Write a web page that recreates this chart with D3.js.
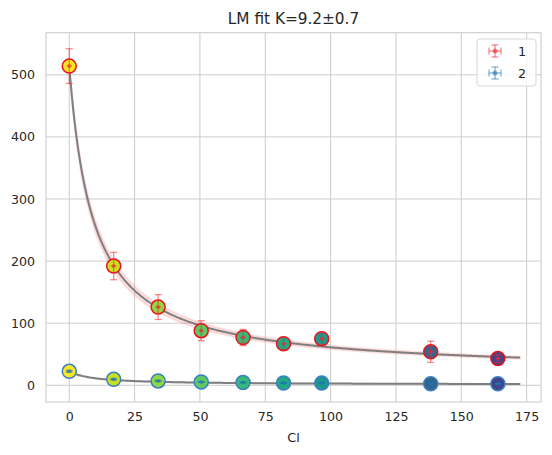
<!DOCTYPE html>
<html>
<head>
<meta charset="utf-8">
<script src="https://cdn.jsdelivr.net/npm/d3@7"></script>
<style>
    body { margin: 0; background: #fff; }
    text { font-family: "DejaVu Sans", sans-serif; }
</style>
</head>
<body>
<div id="chart"></div>
<script>
// data
const clValues = [0, 17, 34, 50.5, 66.5, 82, 96.6, 138.3, 164];
const series1 = [514, 192, 126, 88, 77, 67, 75, 54, 43];
const series1Err = [28, 22, 20, 16, 13, 10, 10, 17, 6];
const series2 = [22.5, 9.6, 7, 5.3, 4.5, 3.7, 3.5, 2.6, 2.5];
const series2Err = [1.5, 1, 0.8, 0.6, 0.5, 0.5, 0.4, 0.4, 0.4];
const xErr = [1, 1, 1, 1, 1, 1, 1, 1, 1];
const xTicks = [0, 25, 50, 75, 100, 125, 150, 175];
const yTicks = [0, 100, 200, 300, 400, 500];
const seriesNames = ["1", "2"];

// fit parameters: y = base + (top - base) / (1 + x / K)
const fitK = 9.2, fitKErr = 0.7;
const fitTop = [514, 22.5];
const fitBase = [19.5, 1.0];
const fitMaxX = 172.5;

const margin = {top: 32.7, right: 11, bottom: 53, left: 46};
const width = 552 - margin.left - margin.right;
const height = 455 - margin.top - margin.bottom;

const svg = d3.select("#chart").append("svg")
    .attr("width", 552)
    .attr("height", 455);

const g = svg.append("g")
    .attr("transform", `translate(${margin.left},${margin.top})`);

const x = d3.scaleLinear().domain([-8.9, 180.5]).range([0, width]);
const y = d3.scaleLinear().domain([-26.9, 567.8]).range([height, 0]);
const color = d3.scaleSequential(d3.interpolateViridis).domain([205, 0]);

// grid
g.append("g").selectAll("line").data(xTicks).enter().append("line")
    .attr("x1", d => x(d)).attr("x2", d => x(d))
    .attr("y1", 0).attr("y2", height)
    .attr("stroke", "#cccccc").attr("stroke-width", 1);
g.append("g").selectAll("line").data(yTicks).enter().append("line")
    .attr("y1", d => y(d)).attr("y2", d => y(d))
    .attr("x1", 0).attr("x2", width)
    .attr("stroke", "#cccccc").attr("stroke-width", 1);

// axes
const xAxis = d3.axisBottom(x).tickValues(xTicks).tickSize(0).tickPadding(10);
const yAxis = d3.axisLeft(y).tickValues(yTicks).tickSize(0).tickPadding(11);

const xg = g.append("g").attr("transform", `translate(0,${height})`).call(xAxis);
const yg = g.append("g").call(yAxis);
[xg, yg].forEach(a => {
    a.select(".domain").remove();
    a.selectAll("text").attr("fill", "#262626").style("font-size", "12.6px")
        .style("font-family", "DejaVu Sans");
});

// spines
g.append("rect")
    .attr("width", width).attr("height", height)
    .attr("fill", "none").attr("stroke", "#cccccc").attr("stroke-width", 1.1);

// fit curves with confidence bands
const fitXs = d3.range(0, 401).map(i => i / 400 * fitMaxX);
const model = (s, k, xv) => fitBase[s] + (fitTop[s] - fitBase[s]) / (1 + xv / k);
const bandColors = ["rgba(240,80,90,0.15)", "rgba(120,120,120,0.2)"];

[0, 1].forEach(s => {
    const area = d3.area()
        .x(d => x(d))
        .y0(d => y(model(s, fitK - fitKErr, d)))
        .y1(d => y(model(s, fitK + fitKErr, d)));
    g.append("path").datum(fitXs)
        .attr("d", area)
        .attr("fill", bandColors[s])
        .attr("stroke", bandColors[s]).attr("stroke-width", 2);
    const line = d3.line().x(d => x(d)).y(d => y(model(s, fitK, d)));
    g.append("path").datum(fitXs)
        .attr("d", line)
        .attr("fill", "none")
        .attr("stroke", "#7f7f7f").attr("stroke-width", 2);
});

// markers
const edgeColors = ["#e8141c", "#3a7fc4"];
const errColors = ["rgba(235,40,50,0.55)", "rgba(31,119,180,0.55)"];
const allSeries = [series1, series2];
const allErr = [series1Err, series2Err];

[0, 1].forEach(s => {
    const pts = clValues.map((c, i) => ({x: c, y: allSeries[s][i], e: allErr[s][i], xe: xErr[i]}));
    g.append("g").selectAll("circle").data(pts).enter().append("circle")
        .attr("cx", d => x(d.x)).attr("cy", d => y(d.y))
        .attr("r", 7)
        .attr("fill", d => color(d.x))
        .attr("stroke", edgeColors[s]).attr("stroke-width", 1.5);

    const eb = g.append("g").selectAll("g").data(pts).enter().append("g")
        .attr("stroke", errColors[s]).attr("stroke-width", 1.3);
    eb.append("line")
        .attr("x1", d => x(d.x)).attr("x2", d => x(d.x))
        .attr("y1", d => y(d.y - d.e)).attr("y2", d => y(d.y + d.e));
    eb.append("line")
        .attr("x1", d => x(d.x) - 3.5).attr("x2", d => x(d.x) + 3.5)
        .attr("y1", d => y(d.y - d.e)).attr("y2", d => y(d.y - d.e));
    eb.append("line")
        .attr("x1", d => x(d.x) - 3.5).attr("x2", d => x(d.x) + 3.5)
        .attr("y1", d => y(d.y + d.e)).attr("y2", d => y(d.y + d.e));
    eb.append("line")
        .attr("x1", d => x(d.x - d.xe)).attr("x2", d => x(d.x + d.xe))
        .attr("y1", d => y(d.y)).attr("y2", d => y(d.y));
    eb.append("circle")
        .attr("cx", d => x(d.x)).attr("cy", d => y(d.y))
        .attr("r", 2).attr("stroke", "none").attr("fill", errColors[s]);
});

// title and label
svg.append("text")
    .attr("x", margin.left + width / 2).attr("y", 24)
    .attr("text-anchor", "middle")
    .attr("fill", "#262626")
    .style("font-size", "15.3px")
    .text("LM fit K=9.2±0.7");

svg.append("text")
    .attr("x", margin.left + width / 2).attr("y", 441.5)
    .attr("text-anchor", "middle")
    .attr("fill", "#262626")
    .style("font-size", "12.8px")
    .text("Cl");

// legend
const legend = svg.append("g").attr("transform", "translate(477,39)");
legend.append("rect")
    .attr("width", 59).attr("height", 47)
    .attr("rx", 3)
    .attr("fill", "rgba(255,255,255,0.8)")
    .attr("stroke", "#d6d6d6").attr("stroke-width", 1);

seriesNames.forEach((name, i) => {
    const item = legend.append("g")
        .attr("transform", `translate(18,${12 + i * 22})`)
        .attr("stroke", errColors[i]).attr("stroke-width", 1.3);
    item.append("line").attr("x1", -6).attr("x2", 6).attr("y1", 0).attr("y2", 0);
    item.append("line").attr("x1", 0).attr("x2", 0).attr("y1", -6).attr("y2", 6);
    item.append("line").attr("x1", -6).attr("x2", -6).attr("y1", -3.5).attr("y2", 3.5);
    item.append("line").attr("x1", 6).attr("x2", 6).attr("y1", -3.5).attr("y2", 3.5);
    item.append("line").attr("x1", -3.5).attr("x2", 3.5).attr("y1", -6).attr("y2", -6);
    item.append("line").attr("x1", -3.5).attr("x2", 3.5).attr("y1", 6).attr("y2", 6);
    item.append("circle").attr("r", 2.5).attr("stroke", "none").attr("fill", errColors[i]);
    legend.append("text")
        .attr("x", 41).attr("y", 12 + i * 22)
        .attr("dy", "0.36em")
        .attr("fill", "#262626")
        .style("font-size", "12.8px")
        .text(name);
});
</script>
</body>
</html>
